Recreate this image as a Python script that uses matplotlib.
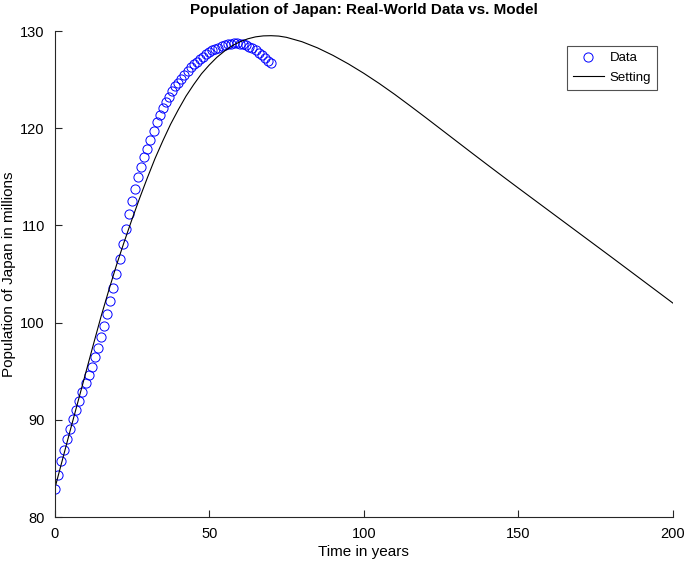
import matplotlib
matplotlib.use("Agg")
import matplotlib.pyplot as plt
import numpy as np

# Observed data (years since start, population in millions)
data_years = list(range(0, 71))
data_pop = [82.85, 84.35, 85.73, 86.89, 88.06, 89.08, 90.08, 91.04, 91.93, 92.89,
            93.76, 94.61, 95.46, 96.46, 97.42, 98.52, 99.68, 100.92, 102.22, 103.59,
            105.03, 106.51, 108.09, 109.63, 111.20, 112.51, 113.78, 114.98, 116.04, 117.01,
            117.89, 118.79, 119.70, 120.60, 121.35, 122.05, 122.70, 123.25, 123.80, 124.30,
            124.70, 125.10, 125.50, 125.90, 126.25, 126.60, 126.85, 127.10, 127.35, 127.60,
            127.80, 128.00, 128.15, 128.30, 128.45, 128.55, 128.65, 128.70, 128.72, 128.72,
            128.70, 128.62, 128.52, 128.40, 128.22, 128.02, 127.78, 127.52, 127.22, 126.95,
            126.68]

# Model ("Setting") curve
model_years = [0, 2.5, 5, 7.5, 10, 12.5, 15, 17.5, 20, 22.5, 25, 27.5, 30, 32.5, 35, 37.5,
               40, 42.5, 45, 47.5, 50, 52.5, 55, 57.5, 60, 62.5, 65, 67.5, 70, 72.5, 75,
               80, 85, 90, 95, 100, 105, 110, 115, 120, 125, 130, 135, 140, 145, 150,
               155, 160, 165, 170, 175, 180, 185, 190, 195, 200]
model_pop = [82.85, 85.85, 88.85, 91.8, 94.75, 97.7, 100.6, 103.3, 105.9, 108.3,
             110.6, 112.8, 114.9, 116.9, 118.7, 120.4, 121.9, 123.3, 124.5, 125.6,
             126.5, 127.3, 127.95, 128.5, 128.9, 129.2, 129.4, 129.5, 129.52, 129.48, 129.35,
             128.9, 128.27, 127.5, 126.62, 125.65, 124.6, 123.48, 122.3, 121.1,
             119.88, 118.66, 117.44, 116.23, 115.03, 113.84, 112.66, 111.48, 110.3,
             109.12, 107.94, 106.76, 105.57, 104.38, 103.19, 102.0]

x_ticks = [0, 50, 100, 150, 200]
y_ticks = [80, 90, 100, 110, 120, 130]

plt.rcParams['font.family'] = ['Liberation Sans', 'DejaVu Sans']

fig = plt.figure(figsize=(6.85, 5.61), dpi=100)
ax = fig.add_axes([0.0797, 0.0784, 0.9028, 0.8663])

ax.plot(data_years, data_pop, linestyle='none', marker='o', markersize=6.6,
        markerfacecolor='none', markeredgecolor='blue', markeredgewidth=0.7,
        label='Data')
ax.plot(model_years, model_pop, color='black', linewidth=0.8, label='Setting')

ax.set_xlim(0, 200)
ax.set_ylim(80, 130)
ax.set_xticks(x_ticks)
ax.set_yticks(y_ticks)
for s in ['top', 'right']:
    ax.spines[s].set_visible(False)
for s in ['left', 'bottom']:
    ax.spines[s].set_color('#262626')
    ax.spines[s].set_linewidth(0.8)
ax.tick_params(direction='in', length=5, width=0.8, colors='#262626',
               labelsize=10.5, labelcolor='black', pad=7)

ax.set_title('Population of Japan: Real-World Data vs. Model', fontsize=11,
             fontweight='bold', pad=12)
ax.set_xlabel('Time in years', fontsize=11, labelpad=3)
ax.set_ylabel('Population of Japan in millions', fontsize=11, labelpad=3)

leg = ax.legend(loc='upper right', bbox_to_anchor=(0.974, 0.969), borderaxespad=0,
                fontsize=9.5, frameon=True, fancybox=False, edgecolor='#262626',
                handlelength=2.4, handletextpad=0.4, borderpad=0.45,
                labelspacing=0.55)
leg.get_frame().set_linewidth(0.8)

fig.savefig('out.png', dpi=100)
